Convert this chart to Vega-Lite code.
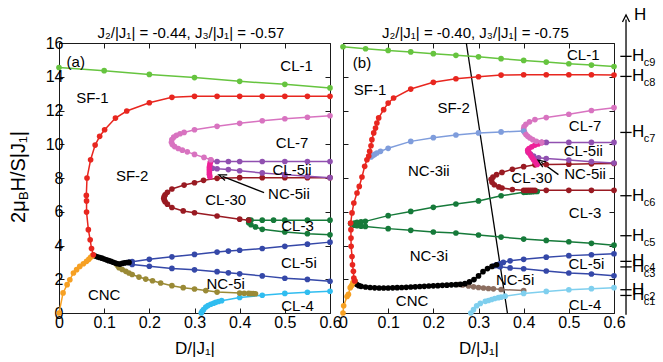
{
"$schema": "https://vega.github.io/schema/vega-lite/v6.json",
"padding": {"left": 8, "top": 5, "right": 0, "bottom": 0},
"spacing": 13,
"bounds": "flush",
"resolve": {"scale": {"color": "independent"}},
"config": {
 "font": "Liberation Sans",
 "view": {"stroke": "#1a1a1a", "strokeWidth": 1},
 "axis": {"grid": false, "domain": false, "tickColor": "#1a1a1a", "tickSize": -5, "tickWidth": 1, "labelFont": "Liberation Sans", "labelFontSize": 16, "labelColor": "#000", "labelFlush": false, "labelOverlap": false, "titleFont": "Liberation Sans", "titleFontWeight": "normal", "titleFontSize": 17, "titleColor": "#000"},
 "text": {"font": "Liberation Sans", "fontSize": 15, "color": "#000"}
},
"datasets": {
"a_lines": [
{"s":"a_cl1","c":"CL-1","i":0,"D":0,"H":14.55},{"s":"a_cl1","c":"CL-1","i":1,"D":0.1,"H":14.36},{"s":"a_cl1","c":"CL-1","i":2,"D":0.2,"H":14.14},{"s":"a_cl1","c":"CL-1","i":3,"D":0.3,"H":13.95},{"s":"a_cl1","c":"CL-1","i":4,"D":0.4,"H":13.73},{"s":"a_cl1","c":"CL-1","i":5,"D":0.5,"H":13.55},{"s":"a_cl1","c":"CL-1","i":6,"D":0.6,"H":13.34},
{"s":"a_sf","c":"SF","i":0,"D":0.6,"H":12.84},{"s":"a_sf","c":"SF","i":1,"D":0.55,"H":12.84},{"s":"a_sf","c":"SF","i":2,"D":0.5,"H":12.84},{"s":"a_sf","c":"SF","i":3,"D":0.45,"H":12.84},{"s":"a_sf","c":"SF","i":4,"D":0.4,"H":12.84},{"s":"a_sf","c":"SF","i":5,"D":0.35,"H":12.84},{"s":"a_sf","c":"SF","i":6,"D":0.3,"H":12.84},{"s":"a_sf","c":"SF","i":7,"D":0.25,"H":12.78},{"s":"a_sf","c":"SF","i":8,"D":0.2,"H":12.46},{"s":"a_sf","c":"SF","i":9,"D":0.15,"H":11.97},{"s":"a_sf","c":"SF","i":10,"D":0.125,"H":11.55},{"s":"a_sf","c":"SF","i":11,"D":0.101,"H":10.86},{"s":"a_sf","c":"SF","i":12,"D":0.09,"H":10.47},{"s":"a_sf","c":"SF","i":13,"D":0.08,"H":9.95},{"s":"a_sf","c":"SF","i":14,"D":0.07,"H":9.08},{"s":"a_sf","c":"SF","i":15,"D":0.062,"H":8.0},{"s":"a_sf","c":"SF","i":16,"D":0.0605,"H":6.97},{"s":"a_sf","c":"SF","i":17,"D":0.061,"H":6.64},{"s":"a_sf","c":"SF","i":18,"D":0.061,"H":5.98},{"s":"a_sf","c":"SF","i":19,"D":0.065,"H":4.94},{"s":"a_sf","c":"SF","i":20,"D":0.069,"H":4.34},{"s":"a_sf","c":"SF","i":21,"D":0.072,"H":3.82},{"s":"a_sf","c":"SF","i":22,"D":0.076,"H":3.45},
{"s":"a_cnc","c":"CNC","i":0,"D":0,"H":0},{"s":"a_cnc","c":"CNC","i":1,"D":0.009,"H":1.19},{"s":"a_cnc","c":"CNC","i":2,"D":0.018,"H":1.68},{"s":"a_cnc","c":"CNC","i":3,"D":0.024,"H":1.97},{"s":"a_cnc","c":"CNC","i":4,"D":0.032,"H":2.37},{"s":"a_cnc","c":"CNC","i":5,"D":0.039,"H":2.57},{"s":"a_cnc","c":"CNC","i":6,"D":0.046,"H":2.76},{"s":"a_cnc","c":"CNC","i":7,"D":0.054,"H":2.92},{"s":"a_cnc","c":"CNC","i":8,"D":0.061,"H":3.06},{"s":"a_cnc","c":"CNC","i":9,"D":0.066,"H":3.18},{"s":"a_cnc","c":"CNC","i":10,"D":0.07,"H":3.3},{"s":"a_cnc","c":"CNC","i":11,"D":0.074,"H":3.4},
{"s":"a_blk","c":"BLK","i":0,"D":0.076,"H":3.42},{"s":"a_blk","c":"BLK","i":1,"D":0.08,"H":3.38},{"s":"a_blk","c":"BLK","i":2,"D":0.085,"H":3.33},{"s":"a_blk","c":"BLK","i":3,"D":0.09,"H":3.29},{"s":"a_blk","c":"BLK","i":4,"D":0.095,"H":3.25},{"s":"a_blk","c":"BLK","i":5,"D":0.1,"H":3.2},{"s":"a_blk","c":"BLK","i":6,"D":0.105,"H":3.15},{"s":"a_blk","c":"BLK","i":7,"D":0.11,"H":3.1},{"s":"a_blk","c":"BLK","i":8,"D":0.115,"H":3.06},{"s":"a_blk","c":"BLK","i":9,"D":0.12,"H":3.01},{"s":"a_blk","c":"BLK","i":10,"D":0.125,"H":2.96},{"s":"a_blk","c":"BLK","i":11,"D":0.13,"H":2.92},{"s":"a_blk","c":"BLK","i":12,"D":0.135,"H":2.9},{"s":"a_blk","c":"BLK","i":13,"D":0.14,"H":2.94},{"s":"a_blk","c":"BLK","i":14,"D":0.145,"H":2.97},{"s":"a_blk","c":"BLK","i":15,"D":0.15,"H":2.99},{"s":"a_blk","c":"BLK","i":16,"D":0.155,"H":3.0},
{"s":"a_b1","c":"CL-5i","i":0,"D":0.155,"H":3.0},{"s":"a_b1","c":"CL-5i","i":1,"D":0.162,"H":3.04},{"s":"a_b1","c":"CL-5i","i":2,"D":0.2,"H":3.18},{"s":"a_b1","c":"CL-5i","i":3,"D":0.25,"H":3.33},{"s":"a_b1","c":"CL-5i","i":4,"D":0.3,"H":3.47},{"s":"a_b1","c":"CL-5i","i":5,"D":0.35,"H":3.61},{"s":"a_b1","c":"CL-5i","i":6,"D":0.375,"H":3.67},{"s":"a_b1","c":"CL-5i","i":7,"D":0.4,"H":3.72},{"s":"a_b1","c":"CL-5i","i":8,"D":0.45,"H":3.82},{"s":"a_b1","c":"CL-5i","i":9,"D":0.5,"H":3.95},{"s":"a_b1","c":"CL-5i","i":10,"D":0.55,"H":4.08},{"s":"a_b1","c":"CL-5i","i":11,"D":0.6,"H":4.2},
{"s":"a_b2","c":"CL-5i","i":0,"D":0.155,"H":3.0},{"s":"a_b2","c":"CL-5i","i":1,"D":0.162,"H":2.88},{"s":"a_b2","c":"CL-5i","i":2,"D":0.2,"H":2.77},{"s":"a_b2","c":"CL-5i","i":3,"D":0.25,"H":2.64},{"s":"a_b2","c":"CL-5i","i":4,"D":0.3,"H":2.56},{"s":"a_b2","c":"CL-5i","i":5,"D":0.35,"H":2.45},{"s":"a_b2","c":"CL-5i","i":6,"D":0.375,"H":2.38},{"s":"a_b2","c":"CL-5i","i":7,"D":0.4,"H":2.32},{"s":"a_b2","c":"CL-5i","i":8,"D":0.45,"H":2.2},{"s":"a_b2","c":"CL-5i","i":9,"D":0.5,"H":2.06},{"s":"a_b2","c":"CL-5i","i":10,"D":0.55,"H":1.99},{"s":"a_b2","c":"CL-5i","i":11,"D":0.6,"H":1.88},
{"s":"a_ol","c":"NC-5i","i":0,"D":0.126,"H":2.92},{"s":"a_ol","c":"NC-5i","i":1,"D":0.13,"H":2.8},{"s":"a_ol","c":"NC-5i","i":2,"D":0.133,"H":2.68},{"s":"a_ol","c":"NC-5i","i":3,"D":0.14,"H":2.58},{"s":"a_ol","c":"NC-5i","i":4,"D":0.148,"H":2.47},{"s":"a_ol","c":"NC-5i","i":5,"D":0.155,"H":2.37},{"s":"a_ol","c":"NC-5i","i":6,"D":0.162,"H":2.28},{"s":"a_ol","c":"NC-5i","i":7,"D":0.177,"H":2.13},{"s":"a_ol","c":"NC-5i","i":8,"D":0.192,"H":2.01},{"s":"a_ol","c":"NC-5i","i":9,"D":0.207,"H":1.91},{"s":"a_ol","c":"NC-5i","i":10,"D":0.225,"H":1.78},{"s":"a_ol","c":"NC-5i","i":11,"D":0.25,"H":1.62},{"s":"a_ol","c":"NC-5i","i":12,"D":0.275,"H":1.5},{"s":"a_ol","c":"NC-5i","i":13,"D":0.3,"H":1.42},{"s":"a_ol","c":"NC-5i","i":14,"D":0.325,"H":1.33},{"s":"a_ol","c":"NC-5i","i":15,"D":0.35,"H":1.24},{"s":"a_ol","c":"NC-5i","i":16,"D":0.4,"H":1.18},{"s":"a_ol","c":"NC-5i","i":17,"D":0.41,"H":1.17},{"s":"a_ol","c":"NC-5i","i":18,"D":0.42,"H":1.16},{"s":"a_ol","c":"NC-5i","i":19,"D":0.425,"H":1.15},{"s":"a_ol","c":"NC-5i","i":20,"D":0.43,"H":1.15},{"s":"a_ol","c":"NC-5i","i":21,"D":0.435,"H":1.14},
{"s":"a_cy","c":"CL-4","i":0,"D":0.315,"H":0},{"s":"a_cy","c":"CL-4","i":1,"D":0.317,"H":0.1},{"s":"a_cy","c":"CL-4","i":2,"D":0.32,"H":0.2},{"s":"a_cy","c":"CL-4","i":3,"D":0.325,"H":0.35},{"s":"a_cy","c":"CL-4","i":4,"D":0.33,"H":0.44},{"s":"a_cy","c":"CL-4","i":5,"D":0.336,"H":0.52},{"s":"a_cy","c":"CL-4","i":6,"D":0.342,"H":0.58},{"s":"a_cy","c":"CL-4","i":7,"D":0.347,"H":0.63},{"s":"a_cy","c":"CL-4","i":8,"D":0.353,"H":0.68},{"s":"a_cy","c":"CL-4","i":9,"D":0.36,"H":0.73},{"s":"a_cy","c":"CL-4","i":10,"D":0.4,"H":0.92},{"s":"a_cy","c":"CL-4","i":11,"D":0.45,"H":1.05},{"s":"a_cy","c":"CL-4","i":12,"D":0.5,"H":1.16},{"s":"a_cy","c":"CL-4","i":13,"D":0.55,"H":1.23},{"s":"a_cy","c":"CL-4","i":14,"D":0.6,"H":1.29},
{"s":"a_dr","c":"CL-30","i":0,"D":0.6,"H":8.02},{"s":"a_dr","c":"CL-30","i":1,"D":0.55,"H":8.02},{"s":"a_dr","c":"CL-30","i":2,"D":0.5,"H":8.02},{"s":"a_dr","c":"CL-30","i":3,"D":0.45,"H":8.02},{"s":"a_dr","c":"CL-30","i":4,"D":0.4,"H":8.02},{"s":"a_dr","c":"CL-30","i":5,"D":0.35,"H":7.98},{"s":"a_dr","c":"CL-30","i":6,"D":0.32,"H":7.86},{"s":"a_dr","c":"CL-30","i":7,"D":0.3,"H":7.72},{"s":"a_dr","c":"CL-30","i":8,"D":0.277,"H":7.58},{"s":"a_dr","c":"CL-30","i":9,"D":0.25,"H":7.35},{"s":"a_dr","c":"CL-30","i":10,"D":0.24,"H":7.15},{"s":"a_dr","c":"CL-30","i":11,"D":0.235,"H":7.0},{"s":"a_dr","c":"CL-30","i":12,"D":0.233,"H":6.9},{"s":"a_dr","c":"CL-30","i":13,"D":0.232,"H":6.8},{"s":"a_dr","c":"CL-30","i":14,"D":0.233,"H":6.7},{"s":"a_dr","c":"CL-30","i":15,"D":0.235,"H":6.6},{"s":"a_dr","c":"CL-30","i":16,"D":0.24,"H":6.45},{"s":"a_dr","c":"CL-30","i":17,"D":0.25,"H":6.25},{"s":"a_dr","c":"CL-30","i":18,"D":0.275,"H":6.05},{"s":"a_dr","c":"CL-30","i":19,"D":0.3,"H":5.94},{"s":"a_dr","c":"CL-30","i":20,"D":0.35,"H":5.75},{"s":"a_dr","c":"CL-30","i":21,"D":0.4,"H":5.56},{"s":"a_dr","c":"CL-30","i":22,"D":0.42,"H":5.5},
{"s":"a_g1","c":"CL-3","i":0,"D":0.42,"H":5.5},{"s":"a_g1","c":"CL-3","i":1,"D":0.425,"H":5.5},{"s":"a_g1","c":"CL-3","i":2,"D":0.45,"H":5.5},{"s":"a_g1","c":"CL-3","i":3,"D":0.475,"H":5.5},{"s":"a_g1","c":"CL-3","i":4,"D":0.5,"H":5.5},{"s":"a_g1","c":"CL-3","i":5,"D":0.55,"H":5.5},{"s":"a_g1","c":"CL-3","i":6,"D":0.6,"H":5.5},
{"s":"a_g2","c":"CL-3","i":0,"D":0.42,"H":5.5},{"s":"a_g2","c":"CL-3","i":1,"D":0.42,"H":5.35},{"s":"a_g2","c":"CL-3","i":2,"D":0.425,"H":5.23},{"s":"a_g2","c":"CL-3","i":3,"D":0.435,"H":5.1},{"s":"a_g2","c":"CL-3","i":4,"D":0.45,"H":4.96},{"s":"a_g2","c":"CL-3","i":5,"D":0.5,"H":4.8},{"s":"a_g2","c":"CL-3","i":6,"D":0.55,"H":4.7},{"s":"a_g2","c":"CL-3","i":7,"D":0.6,"H":4.63},
{"s":"a_pk","c":"CL-7","i":0,"D":0.6,"H":11.69},{"s":"a_pk","c":"CL-7","i":1,"D":0.55,"H":11.6},{"s":"a_pk","c":"CL-7","i":2,"D":0.5,"H":11.51},{"s":"a_pk","c":"CL-7","i":3,"D":0.45,"H":11.39},{"s":"a_pk","c":"CL-7","i":4,"D":0.4,"H":11.24},{"s":"a_pk","c":"CL-7","i":5,"D":0.35,"H":11.06},{"s":"a_pk","c":"CL-7","i":6,"D":0.3,"H":10.86},{"s":"a_pk","c":"CL-7","i":7,"D":0.277,"H":10.7},{"s":"a_pk","c":"CL-7","i":8,"D":0.268,"H":10.62},{"s":"a_pk","c":"CL-7","i":9,"D":0.26,"H":10.53},{"s":"a_pk","c":"CL-7","i":10,"D":0.254,"H":10.42},{"s":"a_pk","c":"CL-7","i":11,"D":0.25,"H":10.28},{"s":"a_pk","c":"CL-7","i":12,"D":0.249,"H":10.12},{"s":"a_pk","c":"CL-7","i":13,"D":0.251,"H":9.98},{"s":"a_pk","c":"CL-7","i":14,"D":0.256,"H":9.86},{"s":"a_pk","c":"CL-7","i":15,"D":0.264,"H":9.75},{"s":"a_pk","c":"CL-7","i":16,"D":0.273,"H":9.65},{"s":"a_pk","c":"CL-7","i":17,"D":0.284,"H":9.55},{"s":"a_pk","c":"CL-7","i":18,"D":0.3,"H":9.4},{"s":"a_pk","c":"CL-7","i":19,"D":0.321,"H":9.22},{"s":"a_pk","c":"CL-7","i":20,"D":0.336,"H":9.08},
{"s":"a_p1","c":"CL-5ii","i":0,"D":0.336,"H":9.0},{"s":"a_p1","c":"CL-5ii","i":1,"D":0.35,"H":8.98},{"s":"a_p1","c":"CL-5ii","i":2,"D":0.375,"H":8.98},{"s":"a_p1","c":"CL-5ii","i":3,"D":0.4,"H":8.98},{"s":"a_p1","c":"CL-5ii","i":4,"D":0.45,"H":8.98},{"s":"a_p1","c":"CL-5ii","i":5,"D":0.5,"H":8.98},{"s":"a_p1","c":"CL-5ii","i":6,"D":0.55,"H":8.98},{"s":"a_p1","c":"CL-5ii","i":7,"D":0.6,"H":8.98},
{"s":"a_p2","c":"CL-5ii","i":0,"D":0.336,"H":8.6},{"s":"a_p2","c":"CL-5ii","i":1,"D":0.34,"H":8.58},{"s":"a_p2","c":"CL-5ii","i":2,"D":0.35,"H":8.55},{"s":"a_p2","c":"CL-5ii","i":3,"D":0.375,"H":8.5},{"s":"a_p2","c":"CL-5ii","i":4,"D":0.4,"H":8.43},{"s":"a_p2","c":"CL-5ii","i":5,"D":0.45,"H":8.3},{"s":"a_p2","c":"CL-5ii","i":6,"D":0.5,"H":8.2},{"s":"a_p2","c":"CL-5ii","i":7,"D":0.55,"H":8.1},{"s":"a_p2","c":"CL-5ii","i":8,"D":0.6,"H":8.02},
{"s":"a_zmg","c":"NC-5ii","i":0,"D":0.336,"H":9.06},{"s":"a_zmg","c":"NC-5ii","i":1,"D":0.335,"H":8.92},{"s":"a_zmg","c":"NC-5ii","i":2,"D":0.334,"H":8.78},{"s":"a_zmg","c":"NC-5ii","i":3,"D":0.333,"H":8.64},{"s":"a_zmg","c":"NC-5ii","i":4,"D":0.333,"H":8.5},{"s":"a_zmg","c":"NC-5ii","i":5,"D":0.333,"H":8.36},{"s":"a_zmg","c":"NC-5ii","i":6,"D":0.333,"H":8.22},{"s":"a_zmg","c":"NC-5ii","i":7,"D":0.334,"H":8.08}
],
"a_text": [
{"t":"(a)","D":0.037,"H":14.9},{"t":"CL-1","D":0.526,"H":14.65},{"t":"SF-1","D":0.074,"H":12.74},{"t":"SF-2","D":0.162,"H":8.12},{"t":"CL-7","D":0.516,"H":10.07},{"t":"CL-5ii","D":0.516,"H":8.49},{"t":"NC-5ii","D":0.509,"H":7.07},{"t":"CL-30","D":0.369,"H":6.67},{"t":"CL-3","D":0.528,"H":5.13},{"t":"CL-5i","D":0.531,"H":2.96},{"t":"NC-5i","D":0.369,"H":1.74},{"t":"CNC","D":0.1,"H":1.04},{"t":"CL-4","D":0.528,"H":0.43},
{"t":"J₂/|J₁| = -0.44, J₃/|J₁| = -0.57","D":0.292,"H":16.62}
],
"a_arrow": [{"D":0.454,"H":7.13,"D2":0.362,"H2":8.1}],
"a_ytitle": [{"t":"2μ","D":-0.0886,"H":5.34},{"t":"H/S|J₁|","D":-0.0886,"H":7.2}],
"a_ysub": [{"t":"B","D":-0.0775,"H":6.7}],
"b_lines": [
{"s":"b_cl1","c":"CL-1","i":0,"D":0,"H":15.78},{"s":"b_cl1","c":"CL-1","i":1,"D":0.05,"H":15.66},{"s":"b_cl1","c":"CL-1","i":2,"D":0.1,"H":15.56},{"s":"b_cl1","c":"CL-1","i":3,"D":0.15,"H":15.47},{"s":"b_cl1","c":"CL-1","i":4,"D":0.2,"H":15.37},{"s":"b_cl1","c":"CL-1","i":5,"D":0.25,"H":15.27},{"s":"b_cl1","c":"CL-1","i":6,"D":0.3,"H":15.18},{"s":"b_cl1","c":"CL-1","i":7,"D":0.35,"H":15.07},{"s":"b_cl1","c":"CL-1","i":8,"D":0.4,"H":14.97},{"s":"b_cl1","c":"CL-1","i":9,"D":0.45,"H":14.87},{"s":"b_cl1","c":"CL-1","i":10,"D":0.5,"H":14.77},{"s":"b_cl1","c":"CL-1","i":11,"D":0.55,"H":14.69},{"s":"b_cl1","c":"CL-1","i":12,"D":0.6,"H":14.61},
{"s":"b_sf","c":"SF","i":0,"D":0.6,"H":14.1},{"s":"b_sf","c":"SF","i":1,"D":0.55,"H":14.12},{"s":"b_sf","c":"SF","i":2,"D":0.5,"H":14.12},{"s":"b_sf","c":"SF","i":3,"D":0.45,"H":14.12},{"s":"b_sf","c":"SF","i":4,"D":0.4,"H":14.12},{"s":"b_sf","c":"SF","i":5,"D":0.35,"H":14.1},{"s":"b_sf","c":"SF","i":6,"D":0.3,"H":14.0},{"s":"b_sf","c":"SF","i":7,"D":0.25,"H":13.88},{"s":"b_sf","c":"SF","i":8,"D":0.2,"H":13.67},{"s":"b_sf","c":"SF","i":9,"D":0.15,"H":13.27},{"s":"b_sf","c":"SF","i":10,"D":0.112,"H":12.74},{"s":"b_sf","c":"SF","i":11,"D":0.1,"H":12.44},{"s":"b_sf","c":"SF","i":12,"D":0.09,"H":12.05},{"s":"b_sf","c":"SF","i":13,"D":0.079,"H":11.56},{"s":"b_sf","c":"SF","i":14,"D":0.075,"H":11.26},{"s":"b_sf","c":"SF","i":15,"D":0.072,"H":10.96},{"s":"b_sf","c":"SF","i":16,"D":0.068,"H":10.67},{"s":"b_sf","c":"SF","i":17,"D":0.064,"H":10.27},{"s":"b_sf","c":"SF","i":18,"D":0.062,"H":9.91},{"s":"b_sf","c":"SF","i":19,"D":0.059,"H":9.58},{"s":"b_sf","c":"SF","i":20,"D":0.057,"H":9.3},{"s":"b_sf","c":"SF","i":21,"D":0.053,"H":9.08},{"s":"b_sf","c":"SF","i":22,"D":0.048,"H":8.69},{"s":"b_sf","c":"SF","i":23,"D":0.042,"H":8.06},{"s":"b_sf","c":"SF","i":24,"D":0.036,"H":7.5},{"s":"b_sf","c":"SF","i":25,"D":0.031,"H":7.11},{"s":"b_sf","c":"SF","i":26,"D":0.024,"H":6.52},{"s":"b_sf","c":"SF","i":27,"D":0.02,"H":5.93},{"s":"b_sf","c":"SF","i":28,"D":0.017,"H":5.33},{"s":"b_sf","c":"SF","i":29,"D":0.0175,"H":4.94},{"s":"b_sf","c":"SF","i":30,"D":0.0177,"H":4.44},{"s":"b_sf","c":"SF","i":31,"D":0.018,"H":3.95},{"s":"b_sf","c":"SF","i":32,"D":0.02,"H":3.35},{"s":"b_sf","c":"SF","i":33,"D":0.021,"H":2.86},{"s":"b_sf","c":"SF","i":34,"D":0.023,"H":2.47},{"s":"b_sf","c":"SF","i":35,"D":0.024,"H":2.07},{"s":"b_sf","c":"SF","i":36,"D":0.026,"H":1.9},
{"s":"b_cnc","c":"CNC","i":0,"D":0,"H":0},{"s":"b_cnc","c":"CNC","i":1,"D":0.0015,"H":0.43},{"s":"b_cnc","c":"CNC","i":2,"D":0.009,"H":0.98},{"s":"b_cnc","c":"CNC","i":3,"D":0.012,"H":1.1},{"s":"b_cnc","c":"CNC","i":4,"D":0.016,"H":1.5},{"s":"b_cnc","c":"CNC","i":5,"D":0.019,"H":1.62},{"s":"b_cnc","c":"CNC","i":6,"D":0.022,"H":1.8},{"s":"b_cnc","c":"CNC","i":7,"D":0.026,"H":1.9},
{"s":"b_blk","c":"BLK","i":0,"D":0.026,"H":1.88},{"s":"b_blk","c":"BLK","i":1,"D":0.03,"H":1.7},{"s":"b_blk","c":"BLK","i":2,"D":0.035,"H":1.62},{"s":"b_blk","c":"BLK","i":3,"D":0.04,"H":1.58},{"s":"b_blk","c":"BLK","i":4,"D":0.05,"H":1.54},{"s":"b_blk","c":"BLK","i":5,"D":0.06,"H":1.51},{"s":"b_blk","c":"BLK","i":6,"D":0.07,"H":1.49},{"s":"b_blk","c":"BLK","i":7,"D":0.08,"H":1.48},{"s":"b_blk","c":"BLK","i":8,"D":0.09,"H":1.48},{"s":"b_blk","c":"BLK","i":9,"D":0.1,"H":1.48},{"s":"b_blk","c":"BLK","i":10,"D":0.11,"H":1.49},{"s":"b_blk","c":"BLK","i":11,"D":0.12,"H":1.5},{"s":"b_blk","c":"BLK","i":12,"D":0.13,"H":1.51},{"s":"b_blk","c":"BLK","i":13,"D":0.14,"H":1.52},{"s":"b_blk","c":"BLK","i":14,"D":0.15,"H":1.54},{"s":"b_blk","c":"BLK","i":15,"D":0.16,"H":1.55},{"s":"b_blk","c":"BLK","i":16,"D":0.17,"H":1.57},{"s":"b_blk","c":"BLK","i":17,"D":0.18,"H":1.58},{"s":"b_blk","c":"BLK","i":18,"D":0.19,"H":1.6},{"s":"b_blk","c":"BLK","i":19,"D":0.2,"H":1.61},{"s":"b_blk","c":"BLK","i":20,"D":0.21,"H":1.62},{"s":"b_blk","c":"BLK","i":21,"D":0.22,"H":1.64},{"s":"b_blk","c":"BLK","i":22,"D":0.23,"H":1.65},{"s":"b_blk","c":"BLK","i":23,"D":0.24,"H":1.67},{"s":"b_blk","c":"BLK","i":24,"D":0.25,"H":1.68},{"s":"b_blk","c":"BLK","i":25,"D":0.26,"H":1.7},{"s":"b_blk","c":"BLK","i":26,"D":0.27,"H":1.74},{"s":"b_blk","c":"BLK","i":27,"D":0.28,"H":1.84},{"s":"b_blk","c":"BLK","i":28,"D":0.29,"H":1.98},{"s":"b_blk","c":"BLK","i":29,"D":0.3,"H":2.2},{"s":"b_blk","c":"BLK","i":30,"D":0.31,"H":2.45},{"s":"b_blk","c":"BLK","i":31,"D":0.32,"H":2.63},{"s":"b_blk","c":"BLK","i":32,"D":0.33,"H":2.76},{"s":"b_blk","c":"BLK","i":33,"D":0.34,"H":2.86},
{"s":"b_br","c":"NC-5i","i":0,"D":0.255,"H":1.69},{"s":"b_br","c":"NC-5i","i":1,"D":0.265,"H":1.66},{"s":"b_br","c":"NC-5i","i":2,"D":0.278,"H":1.6},{"s":"b_br","c":"NC-5i","i":3,"D":0.289,"H":1.55},{"s":"b_br","c":"NC-5i","i":4,"D":0.3,"H":1.51},{"s":"b_br","c":"NC-5i","i":5,"D":0.311,"H":1.48},{"s":"b_br","c":"NC-5i","i":6,"D":0.322,"H":1.45},{"s":"b_br","c":"NC-5i","i":7,"D":0.333,"H":1.43},{"s":"b_br","c":"NC-5i","i":8,"D":0.35,"H":1.39},{"s":"b_br","c":"NC-5i","i":9,"D":0.4,"H":1.33},
{"s":"b_cy","c":"CL-4","i":0,"D":0.283,"H":0},{"s":"b_cy","c":"CL-4","i":1,"D":0.289,"H":0.2},{"s":"b_cy","c":"CL-4","i":2,"D":0.296,"H":0.43},{"s":"b_cy","c":"CL-4","i":3,"D":0.304,"H":0.57},{"s":"b_cy","c":"CL-4","i":4,"D":0.315,"H":0.69},{"s":"b_cy","c":"CL-4","i":5,"D":0.322,"H":0.74},{"s":"b_cy","c":"CL-4","i":6,"D":0.329,"H":0.8},{"s":"b_cy","c":"CL-4","i":7,"D":0.336,"H":0.86},{"s":"b_cy","c":"CL-4","i":8,"D":0.344,"H":0.91},{"s":"b_cy","c":"CL-4","i":9,"D":0.35,"H":0.94},{"s":"b_cy","c":"CL-4","i":10,"D":0.359,"H":1.0},{"s":"b_cy","c":"CL-4","i":11,"D":0.4,"H":1.16},{"s":"b_cy","c":"CL-4","i":12,"D":0.45,"H":1.28},{"s":"b_cy","c":"CL-4","i":13,"D":0.5,"H":1.38},{"s":"b_cy","c":"CL-4","i":14,"D":0.55,"H":1.44},{"s":"b_cy","c":"CL-4","i":15,"D":0.6,"H":1.5},
{"s":"b_b1","c":"CL-5i","i":0,"D":0.335,"H":2.8},{"s":"b_b1","c":"CL-5i","i":1,"D":0.34,"H":2.86},{"s":"b_b1","c":"CL-5i","i":2,"D":0.345,"H":2.88},{"s":"b_b1","c":"CL-5i","i":3,"D":0.348,"H":2.91},{"s":"b_b1","c":"CL-5i","i":4,"D":0.355,"H":3.0},{"s":"b_b1","c":"CL-5i","i":5,"D":0.37,"H":3.09},{"s":"b_b1","c":"CL-5i","i":6,"D":0.4,"H":3.18},{"s":"b_b1","c":"CL-5i","i":7,"D":0.45,"H":3.31},{"s":"b_b1","c":"CL-5i","i":8,"D":0.5,"H":3.4},{"s":"b_b1","c":"CL-5i","i":9,"D":0.55,"H":3.45},{"s":"b_b1","c":"CL-5i","i":10,"D":0.6,"H":3.51},
{"s":"b_b2","c":"CL-5i","i":0,"D":0.343,"H":2.8},{"s":"b_b2","c":"CL-5i","i":1,"D":0.348,"H":2.74},{"s":"b_b2","c":"CL-5i","i":2,"D":0.37,"H":2.67},{"s":"b_b2","c":"CL-5i","i":3,"D":0.4,"H":2.62},{"s":"b_b2","c":"CL-5i","i":4,"D":0.45,"H":2.49},{"s":"b_b2","c":"CL-5i","i":5,"D":0.5,"H":2.37},{"s":"b_b2","c":"CL-5i","i":6,"D":0.55,"H":2.31},{"s":"b_b2","c":"CL-5i","i":7,"D":0.6,"H":2.21},
{"s":"b_g1","c":"CL-3","i":0,"D":0.017,"H":5.3},{"s":"b_g1","c":"CL-3","i":1,"D":0.025,"H":5.33},{"s":"b_g1","c":"CL-3","i":2,"D":0.031,"H":5.37},{"s":"b_g1","c":"CL-3","i":3,"D":0.04,"H":5.4},{"s":"b_g1","c":"CL-3","i":4,"D":0.0495,"H":5.43},{"s":"b_g1","c":"CL-3","i":5,"D":0.1,"H":5.77},{"s":"b_g1","c":"CL-3","i":6,"D":0.15,"H":6.02},{"s":"b_g1","c":"CL-3","i":7,"D":0.2,"H":6.26},{"s":"b_g1","c":"CL-3","i":8,"D":0.25,"H":6.46},{"s":"b_g1","c":"CL-3","i":9,"D":0.3,"H":6.64},{"s":"b_g1","c":"CL-3","i":10,"D":0.35,"H":6.95},{"s":"b_g1","c":"CL-3","i":11,"D":0.4,"H":7.15},{"s":"b_g1","c":"CL-3","i":12,"D":0.405,"H":7.16},{"s":"b_g1","c":"CL-3","i":13,"D":0.41,"H":7.17},{"s":"b_g1","c":"CL-3","i":14,"D":0.415,"H":7.18},{"s":"b_g1","c":"CL-3","i":15,"D":0.42,"H":7.19},{"s":"b_g1","c":"CL-3","i":16,"D":0.425,"H":7.2},{"s":"b_g1","c":"CL-3","i":17,"D":0.43,"H":7.2},
{"s":"b_g2","c":"CL-3","i":0,"D":0.017,"H":5.3},{"s":"b_g2","c":"CL-3","i":1,"D":0.025,"H":5.2},{"s":"b_g2","c":"CL-3","i":2,"D":0.031,"H":5.17},{"s":"b_g2","c":"CL-3","i":3,"D":0.04,"H":5.14},{"s":"b_g2","c":"CL-3","i":4,"D":0.0495,"H":5.13},{"s":"b_g2","c":"CL-3","i":5,"D":0.1,"H":5.0},{"s":"b_g2","c":"CL-3","i":6,"D":0.15,"H":4.9},{"s":"b_g2","c":"CL-3","i":7,"D":0.2,"H":4.8},{"s":"b_g2","c":"CL-3","i":8,"D":0.25,"H":4.74},{"s":"b_g2","c":"CL-3","i":9,"D":0.3,"H":4.62},{"s":"b_g2","c":"CL-3","i":10,"D":0.35,"H":4.5},{"s":"b_g2","c":"CL-3","i":11,"D":0.4,"H":4.38},{"s":"b_g2","c":"CL-3","i":12,"D":0.45,"H":4.3},{"s":"b_g2","c":"CL-3","i":13,"D":0.5,"H":4.22},{"s":"b_g2","c":"CL-3","i":14,"D":0.55,"H":4.13},{"s":"b_g2","c":"CL-3","i":15,"D":0.6,"H":4.02},
{"s":"b_lv","c":"NC-3ii","i":0,"D":0.062,"H":9.25},{"s":"b_lv","c":"NC-3ii","i":1,"D":0.066,"H":9.33},{"s":"b_lv","c":"NC-3ii","i":2,"D":0.07,"H":9.4},{"s":"b_lv","c":"NC-3ii","i":3,"D":0.075,"H":9.48},{"s":"b_lv","c":"NC-3ii","i":4,"D":0.083,"H":9.58},{"s":"b_lv","c":"NC-3ii","i":5,"D":0.1,"H":9.76},{"s":"b_lv","c":"NC-3ii","i":6,"D":0.15,"H":10.17},{"s":"b_lv","c":"NC-3ii","i":7,"D":0.2,"H":10.39},{"s":"b_lv","c":"NC-3ii","i":8,"D":0.25,"H":10.55},{"s":"b_lv","c":"NC-3ii","i":9,"D":0.3,"H":10.67},{"s":"b_lv","c":"NC-3ii","i":10,"D":0.35,"H":10.73},{"s":"b_lv","c":"NC-3ii","i":11,"D":0.4,"H":10.78},
{"s":"b_dr","c":"CL-30","i":0,"D":0.6,"H":8.86},{"s":"b_dr","c":"CL-30","i":1,"D":0.55,"H":8.84},{"s":"b_dr","c":"CL-30","i":2,"D":0.5,"H":8.82},{"s":"b_dr","c":"CL-30","i":3,"D":0.45,"H":8.8},{"s":"b_dr","c":"CL-30","i":4,"D":0.425,"H":8.78},{"s":"b_dr","c":"CL-30","i":5,"D":0.4,"H":8.67},{"s":"b_dr","c":"CL-30","i":6,"D":0.375,"H":8.52},{"s":"b_dr","c":"CL-30","i":7,"D":0.352,"H":8.33},{"s":"b_dr","c":"CL-30","i":8,"D":0.34,"H":8.2},{"s":"b_dr","c":"CL-30","i":9,"D":0.332,"H":8.05},{"s":"b_dr","c":"CL-30","i":10,"D":0.328,"H":7.92},{"s":"b_dr","c":"CL-30","i":11,"D":0.33,"H":7.75},{"s":"b_dr","c":"CL-30","i":12,"D":0.335,"H":7.6},{"s":"b_dr","c":"CL-30","i":13,"D":0.345,"H":7.47},{"s":"b_dr","c":"CL-30","i":14,"D":0.352,"H":7.41},{"s":"b_dr","c":"CL-30","i":15,"D":0.375,"H":7.32},{"s":"b_dr","c":"CL-30","i":16,"D":0.4,"H":7.27},{"s":"b_dr","c":"CL-30","i":17,"D":0.405,"H":7.27},{"s":"b_dr","c":"CL-30","i":18,"D":0.41,"H":7.27},{"s":"b_dr","c":"CL-30","i":19,"D":0.415,"H":7.27},{"s":"b_dr","c":"CL-30","i":20,"D":0.42,"H":7.27},{"s":"b_dr","c":"CL-30","i":21,"D":0.425,"H":7.27},{"s":"b_dr","c":"CL-30","i":22,"D":0.45,"H":7.27},{"s":"b_dr","c":"CL-30","i":23,"D":0.5,"H":7.27},{"s":"b_dr","c":"CL-30","i":24,"D":0.55,"H":7.27},{"s":"b_dr","c":"CL-30","i":25,"D":0.6,"H":7.27},
{"s":"b_pk","c":"CL-7","i":0,"D":0.6,"H":12.17},{"s":"b_pk","c":"CL-7","i":1,"D":0.55,"H":12.0},{"s":"b_pk","c":"CL-7","i":2,"D":0.5,"H":11.78},{"s":"b_pk","c":"CL-7","i":3,"D":0.45,"H":11.58},{"s":"b_pk","c":"CL-7","i":4,"D":0.425,"H":11.46},{"s":"b_pk","c":"CL-7","i":5,"D":0.413,"H":11.33},{"s":"b_pk","c":"CL-7","i":6,"D":0.405,"H":11.18},{"s":"b_pk","c":"CL-7","i":7,"D":0.401,"H":11.05},{"s":"b_pk","c":"CL-7","i":8,"D":0.4,"H":10.92},{"s":"b_pk","c":"CL-7","i":9,"D":0.4,"H":10.82},{"s":"b_pk","c":"CL-7","i":10,"D":0.402,"H":10.7},{"s":"b_pk","c":"CL-7","i":11,"D":0.405,"H":10.58},{"s":"b_pk","c":"CL-7","i":12,"D":0.409,"H":10.47},{"s":"b_pk","c":"CL-7","i":13,"D":0.414,"H":10.37},{"s":"b_pk","c":"CL-7","i":14,"D":0.42,"H":10.27},{"s":"b_pk","c":"CL-7","i":15,"D":0.428,"H":10.18},{"s":"b_pk","c":"CL-7","i":16,"D":0.44,"H":10.12},
{"s":"b_p1","c":"CL-5ii","i":0,"D":0.44,"H":10.11},{"s":"b_p1","c":"CL-5ii","i":1,"D":0.45,"H":10.11},{"s":"b_p1","c":"CL-5ii","i":2,"D":0.5,"H":10.11},{"s":"b_p1","c":"CL-5ii","i":3,"D":0.55,"H":10.11},{"s":"b_p1","c":"CL-5ii","i":4,"D":0.6,"H":10.11},
{"s":"b_p2","c":"CL-5ii","i":0,"D":0.41,"H":9.52},{"s":"b_p2","c":"CL-5ii","i":1,"D":0.415,"H":9.42},{"s":"b_p2","c":"CL-5ii","i":2,"D":0.422,"H":9.3},{"s":"b_p2","c":"CL-5ii","i":3,"D":0.433,"H":9.2},{"s":"b_p2","c":"CL-5ii","i":4,"D":0.45,"H":9.15},{"s":"b_p2","c":"CL-5ii","i":5,"D":0.5,"H":9.06},{"s":"b_p2","c":"CL-5ii","i":6,"D":0.55,"H":8.97},{"s":"b_p2","c":"CL-5ii","i":7,"D":0.6,"H":8.89},
{"s":"b_zmg","c":"NC-5ii","i":0,"D":0.44,"H":10.1},{"s":"b_zmg","c":"NC-5ii","i":1,"D":0.432,"H":10.02},{"s":"b_zmg","c":"NC-5ii","i":2,"D":0.425,"H":9.95},{"s":"b_zmg","c":"NC-5ii","i":3,"D":0.418,"H":9.85},{"s":"b_zmg","c":"NC-5ii","i":4,"D":0.412,"H":9.75},{"s":"b_zmg","c":"NC-5ii","i":5,"D":0.409,"H":9.65},{"s":"b_zmg","c":"NC-5ii","i":6,"D":0.41,"H":9.55},{"s":"b_zmg","c":"NC-5ii","i":7,"D":0.413,"H":9.45},{"s":"b_zmg","c":"NC-5ii","i":8,"D":0.416,"H":9.32},{"s":"b_zmg","c":"NC-5ii","i":9,"D":0.419,"H":9.2},{"s":"b_zmg","c":"NC-5ii","i":10,"D":0.422,"H":9.08},{"s":"b_zmg","c":"NC-5ii","i":11,"D":0.425,"H":8.98},{"s":"b_zmg","c":"NC-5ii","i":12,"D":0.428,"H":8.88},{"s":"b_zmg","c":"NC-5ii","i":13,"D":0.43,"H":8.8}
],
"b_text": [
{"t":"(b)","D":0.042,"H":14.8},{"t":"CL-1","D":0.532,"H":15.3},{"t":"SF-1","D":0.06,"H":13.2},{"t":"SF-2","D":0.245,"H":12.15},{"t":"NC-3ii","D":0.19,"H":8.39},{"t":"CL-7","D":0.536,"H":11.06},{"t":"CL-5ii","D":0.532,"H":9.58},{"t":"NC-5ii","D":0.536,"H":8.25},{"t":"CL-30","D":0.418,"H":7.98},{"t":"CL-3","D":0.536,"H":5.93},{"t":"NC-3i","D":0.19,"H":3.35},{"t":"CL-5i","D":0.539,"H":2.92},{"t":"NC-5i","D":0.381,"H":1.97},{"t":"CNC","D":0.153,"H":0.69},{"t":"CL-4","D":0.536,"H":0.49},
{"t":"J₂/|J₁| = -0.40, J₃/|J₁| = -0.75","D":0.293,"H":16.62}
],
"b_segs": [{"D":0.273,"H":16,"D2":0.364,"H2":0},{"D":0.477,"H":8.2,"D2":0.439,"H2":8.93}],
"b_head": [{"D":0.439,"H":8.93}],
"hc": [{"H":15.21,"sub":"c9"},{"H":14.02,"sub":"c8"},{"H":10.7,"sub":"c7"},{"H":6.95,"sub":"c6"},{"H":4.58,"sub":"c5"},{"H":3.06,"sub":"c4"},{"H":2.73,"sub":"c3"},{"H":1.38,"sub":"c2"},{"H":1.04,"sub":"c1"}],
"haxis": [{"D":0.6266,"H":-0.1,"H2":17.4}],
"hhead": [{"D":0.6266,"H":17.45,"t":"H"}]
},
"hconcat": [
{
 "width": 271, "height": 270,
 "resolve": {"axis": {"x": "independent", "y": "independent"}},
 "layer": [
  {"data": {"name": "a_lines"},
   "mark": {"type": "line", "strokeWidth": 1.5, "point": {"filled": true, "size": 32, "opacity": 1}},
   "encoding": {
    "x": {"field": "D", "type": "quantitative", "scale": {"domain": [0, 0.6], "nice": false, "zero": false}, "axis": {"orient": "bottom", "values": [0,0.1,0.2,0.3,0.4,0.5,0.6], "labelExpr": "datum.value == 0 ? '0' : format(datum.value, '.1f')", "labelPadding": 6, "title": "D/|J₁|", "titlePadding": 10}},
    "y": {"field": "H", "type": "quantitative", "scale": {"domain": [0, 16], "nice": false}, "axis": {"orient": "left", "values": [0,2,4,6,8,10,12,14,16], "labelPadding": 1, "title": null}},
    "color": {"field": "c", "type": "nominal", "legend": null, "scale": {"domain": ["CL-1","SF","CL-7","CL-5ii","CL-30","CL-3","CL-5i","NC-5i","CL-4","CNC","BLK","NC-5ii"], "range": ["#66c43f","#e8261f","#d873c0","#9050b0","#991a22","#167a3a","#3548a8","#9a8a36","#30bdf0","#f6a023","#000000","#ee2299"]}},
    "detail": {"field": "s"},
    "order": {"field": "i", "type": "quantitative"}
   }},
  {"data": {"name": "a_text"},
   "mark": {"type": "text", "fontSize": 15, "align": "center", "baseline": "middle"},
   "encoding": {
    "x": {"field": "D", "type": "quantitative", "scale": {"domain": [0, 0.6], "nice": false}, "axis": {"orient": "top", "values": [0,0.1,0.2,0.3,0.4,0.5,0.6], "labels": false, "title": null}},
    "y": {"field": "H", "type": "quantitative", "scale": {"domain": [0, 16], "nice": false}, "axis": {"orient": "right", "values": [0,2,4,6,8,10,12,14,16], "labels": false, "title": null}},
    "text": {"field": "t"}
   }},
  {"data": {"name": "a_arrow"},
   "mark": {"type": "rule", "color": "#000", "strokeWidth": 1.3},
   "encoding": {
    "x": {"field": "D", "type": "quantitative", "scale": {"domain": [0, 0.6]}, "axis": null},
    "y": {"field": "H", "type": "quantitative", "scale": {"domain": [0, 16]}, "axis": null},
    "x2": {"field": "D2"}, "y2": {"field": "H2"}
   }},
  {"data": {"name": "a_arrow"},
   "mark": {"type": "point", "shape": "M-0.8,1L0,-1L0.8,1", "filled": false, "stroke": "#000", "strokeWidth": 1.3, "size": 60, "angle": 291, "opacity": 1},
   "encoding": {
    "x": {"field": "D2", "type": "quantitative", "scale": {"domain": [0, 0.6]}, "axis": null},
    "y": {"field": "H2", "type": "quantitative", "scale": {"domain": [0, 16]}, "axis": null}
   }},
  {"data": {"name": "a_ytitle"},
   "mark": {"type": "text", "fontSize": 20, "angle": 270, "align": "left", "baseline": "middle"},
   "encoding": {
    "x": {"field": "D", "type": "quantitative", "scale": {"domain": [0, 0.6]}, "axis": null},
    "y": {"field": "H", "type": "quantitative", "scale": {"domain": [0, 16]}, "axis": null},
    "text": {"field": "t"}
   }},
  {"data": {"name": "a_ysub"},
   "mark": {"type": "text", "fontSize": 13, "angle": 270, "align": "left", "baseline": "middle"},
   "encoding": {
    "x": {"field": "D", "type": "quantitative", "scale": {"domain": [0, 0.6]}, "axis": null},
    "y": {"field": "H", "type": "quantitative", "scale": {"domain": [0, 16]}, "axis": null},
    "text": {"field": "t"}
   }}
 ]
},
{
 "width": 271, "height": 270,
 "resolve": {"axis": {"x": "independent", "y": "independent"}},
 "layer": [
  {"data": {"name": "b_segs"},
   "mark": {"type": "rule", "color": "#000", "strokeWidth": 1.3},
   "encoding": {
    "x": {"field": "D", "type": "quantitative", "scale": {"domain": [0, 0.6], "nice": false, "zero": false}, "axis": {"orient": "bottom", "values": [0,0.1,0.2,0.3,0.4,0.5,0.6], "labelExpr": "datum.value == 0 ? '0' : format(datum.value, '.1f')", "labelPadding": 6, "title": "D/|J₁|", "titlePadding": 10}},
    "y": {"field": "H", "type": "quantitative", "scale": {"domain": [0, 16], "nice": false}, "axis": {"orient": "left", "values": [0,2,4,6,8,10,12,14,16], "labels": false, "title": null}},
    "x2": {"field": "D2"}, "y2": {"field": "H2"}
   }},
  {"data": {"name": "b_lines"},
   "mark": {"type": "line", "strokeWidth": 1.5, "point": {"filled": true, "size": 32, "opacity": 1}},
   "encoding": {
    "x": {"field": "D", "type": "quantitative", "scale": {"domain": [0, 0.6]}, "axis": {"orient": "top", "values": [0,0.1,0.2,0.3,0.4,0.5,0.6], "labels": false, "title": null}},
    "y": {"field": "H", "type": "quantitative", "scale": {"domain": [0, 16]}, "axis": {"orient": "right", "values": [0,2,4,6,8,10,12,14,16], "labels": false, "title": null}},
    "color": {"field": "c", "type": "nominal", "legend": null, "scale": {"domain": ["CL-1","SF","NC-3ii","CL-7","CL-5ii","CL-30","CL-3","CL-5i","NC-5i","CL-4","CNC","BLK","NC-5ii"], "range": ["#66c43f","#e8261f","#7f9ddc","#d873c0","#9050b0","#991a22","#167a3a","#3548a8","#8c6e60","#7fcfee","#f6a023","#000000","#ee2299"]}},
    "detail": {"field": "s"},
    "order": {"field": "i", "type": "quantitative"}
   }},
  {"data": {"name": "b_head"},
   "mark": {"type": "point", "shape": "M-0.8,1L0,-1L0.8,1", "filled": false, "stroke": "#000", "strokeWidth": 1.3, "size": 60, "angle": 304, "opacity": 1},
   "encoding": {
    "x": {"field": "D", "type": "quantitative", "scale": {"domain": [0, 0.6]}, "axis": null},
    "y": {"field": "H", "type": "quantitative", "scale": {"domain": [0, 16]}, "axis": null}
   }},
  {"data": {"name": "b_text"},
   "mark": {"type": "text", "fontSize": 15, "align": "center", "baseline": "middle"},
   "encoding": {
    "x": {"field": "D", "type": "quantitative", "scale": {"domain": [0, 0.6]}, "axis": null},
    "y": {"field": "H", "type": "quantitative", "scale": {"domain": [0, 16]}, "axis": null},
    "text": {"field": "t"}
   }},
  {"data": {"name": "haxis"},
   "mark": {"type": "rule", "color": "#000", "strokeWidth": 1.3},
   "encoding": {
    "x": {"field": "D", "type": "quantitative", "scale": {"domain": [0, 0.6]}, "axis": null},
    "y": {"field": "H", "type": "quantitative", "scale": {"domain": [0, 16]}, "axis": null},
    "y2": {"field": "H2"}
   }},
  {"data": {"name": "hhead"},
   "mark": {"type": "point", "shape": "M-1,1L0,-1L1,1", "filled": false, "stroke": "#000", "strokeWidth": 1.3, "size": 50, "opacity": 1},
   "encoding": {
    "x": {"field": "D", "type": "quantitative", "scale": {"domain": [0, 0.6]}, "axis": null},
    "y": {"field": "H", "type": "quantitative", "scale": {"domain": [0, 16]}, "axis": null}
   }},
  {"data": {"name": "hhead"},
   "mark": {"type": "text", "fontSize": 17, "align": "left", "baseline": "middle", "dx": 8, "dy": -4},
   "encoding": {
    "x": {"field": "D", "type": "quantitative", "scale": {"domain": [0, 0.6]}, "axis": null},
    "y": {"field": "H", "type": "quantitative", "scale": {"domain": [0, 16]}, "axis": null},
    "text": {"field": "t"}
   }},
  {"data": {"name": "hc"},
   "mark": {"type": "rule", "color": "#000", "strokeWidth": 1.3},
   "encoding": {
    "x": {"datum": 0.614, "type": "quantitative", "scale": {"domain": [0, 0.6]}, "axis": null},
    "x2": {"datum": 0.639},
    "y": {"field": "H", "type": "quantitative", "scale": {"domain": [0, 16]}, "axis": null}
   }},
  {"data": {"name": "hc"},
   "mark": {"type": "text", "fontSize": 17, "align": "left", "baseline": "middle", "text": "H"},
   "encoding": {
    "x": {"datum": 0.64, "type": "quantitative", "scale": {"domain": [0, 0.6]}, "axis": null},
    "y": {"field": "H", "type": "quantitative", "scale": {"domain": [0, 16]}, "axis": null}
   }},
  {"data": {"name": "hc"},
   "mark": {"type": "text", "fontSize": 11, "align": "left", "baseline": "middle", "dy": 7},
   "encoding": {
    "x": {"datum": 0.666, "type": "quantitative", "scale": {"domain": [0, 0.6]}, "axis": null},
    "y": {"field": "H", "type": "quantitative", "scale": {"domain": [0, 16]}, "axis": null},
    "text": {"field": "sub"}
   }}
 ]
}
]
}
